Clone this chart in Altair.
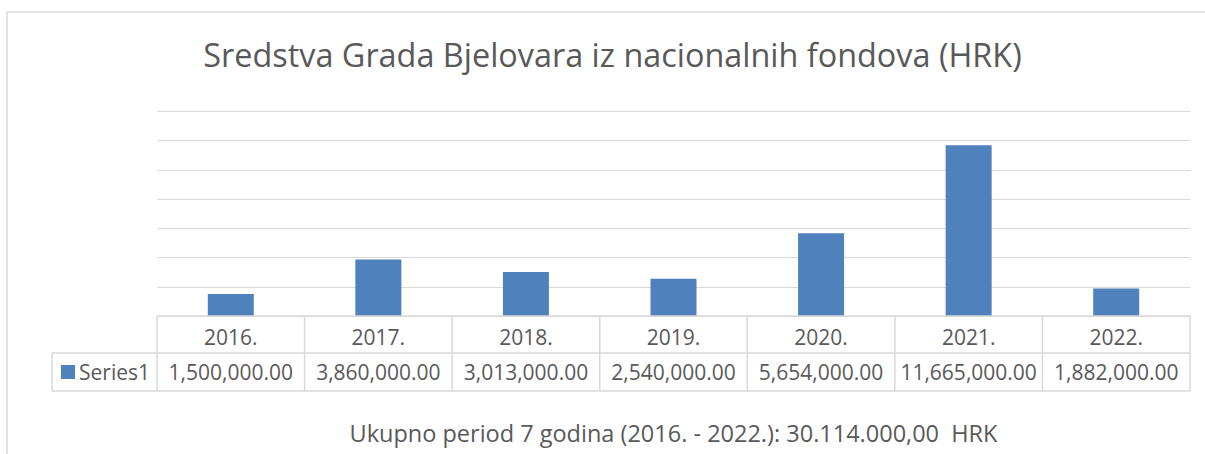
import altair as alt
import pandas as pd

years = ["2016.", "2017.", "2018.", "2019.", "2020.", "2021.", "2022."]
values = [1500000, 3860000, 3013000, 2540000, 5654000, 11665000, 1882000]
series_name = "Series1"
title_text = "Sredstva Grada Bjelovara iz nacionalnih fondova (HRK)"
footer_text = "Ukupno period 7 godina (2016. - 2022.): 30.114.000,00\u00a0\u00a0HRK"
grid_values = [0, 2000000, 4000000, 6000000, 8000000, 10000000, 12000000, 14000000]

df = pd.DataFrame({"year": years, "value": values})
one = pd.DataFrame({"k": [0]})

W, H = 1033, 205
FONT = "Open Sans"
GRAY = "#595959"
LINE = "#d9d9d9"
BLUE = "#4F81BD"

xscale = alt.Scale(domain=years, paddingInner=0, paddingOuter=0)


def xenc(bp):
    return alt.X("year:N", sort=years, scale=xscale, axis=None, bandPosition=bp)


yenc = alt.Y(
    "value:Q",
    scale=alt.Scale(domain=[0, 14000000], nice=False),
    axis=alt.Axis(values=grid_values, grid=True, labels=False, ticks=False,
                  domain=False, title=None, gridColor=LINE, gridWidth=1.2),
)

bars = alt.Chart(df).mark_bar(size=46, color=BLUE).encode(x=xenc(0.5), y=yenc)


def hrule(y, x1, x2):
    return alt.Chart(one).mark_rule(color=LINE, strokeWidth=1.5).encode(
        x=alt.value(x1), x2=alt.value(x2), y=alt.value(y))


def vrule(x, y1, y2):
    return alt.Chart(one).mark_rule(color=LINE, strokeWidth=1.5).encode(
        x=alt.value(x), y=alt.value(y1), y2=alt.value(y2))


# table rows (y in plot coords: 0 at top of plot area)
ROW0, ROW1, ROW2 = H, H + 37, H + 75
LEG_X = -105

table_v = alt.Chart(df).mark_rule(color=LINE, strokeWidth=1.5).encode(
    x=xenc(0), y=alt.value(ROW0), y2=alt.value(ROW2))

header_txt = alt.Chart(df).mark_text(font=FONT, fontSize=21, color=GRAY,
                                     baseline="alphabetic", align="center").encode(
    x=xenc(0.5), y=alt.value(ROW0 + 29), text="year:N")

value_txt = alt.Chart(df).mark_text(font=FONT, fontSize=21, color=GRAY,
                                    baseline="alphabetic", align="center").encode(
    x=xenc(0.5), y=alt.value(ROW1 + 27), text=alt.Text("value:Q", format=",.2f"))

legend_sq = alt.Chart(one).mark_rect(color=BLUE).encode(
    x=alt.value(-96), x2=alt.value(-82), y=alt.value(ROW1 + 12), y2=alt.value(ROW1 + 26))

legend_txt = alt.Chart(one).mark_text(font=FONT, fontSize=21, color=GRAY,
                                      baseline="alphabetic", align="left").encode(
    x=alt.value(-78), y=alt.value(ROW1 + 27), text=alt.value(series_name))

title = alt.Chart(one).mark_text(font=FONT, fontSize=32.4, color=GRAY,
                                 baseline="alphabetic", align="center").encode(
    x=alt.value(455.5), y=alt.value(-44), text=alt.value(title_text))

footer = alt.Chart(one).mark_text(font=FONT, fontSize=23.5, color=GRAY,
                                  baseline="alphabetic", align="center").encode(
    x=alt.value(W / 2), y=alt.value(331), text=alt.value(footer_text))

chart = alt.layer(
    vrule(-150, -99, 343),
    hrule(-99, -150, 1048),
    bars,
    hrule(ROW0, 0, W),
    hrule(ROW1, LEG_X, W),
    hrule(ROW2, LEG_X, W),
    table_v,
    vrule(W, ROW0, ROW2),
    vrule(LEG_X, ROW1, ROW2),
    header_txt,
    value_txt,
    legend_sq,
    legend_txt,
    title,
    footer,
).properties(
    width=W, height=H,
    padding={"left": 157, "top": 111, "right": 15, "bottom": 138},
    autosize="none",
    background="white",
).configure_view(stroke=None)

chart.save("out.html", embed_options={"renderer": "svg", "actions": False})
